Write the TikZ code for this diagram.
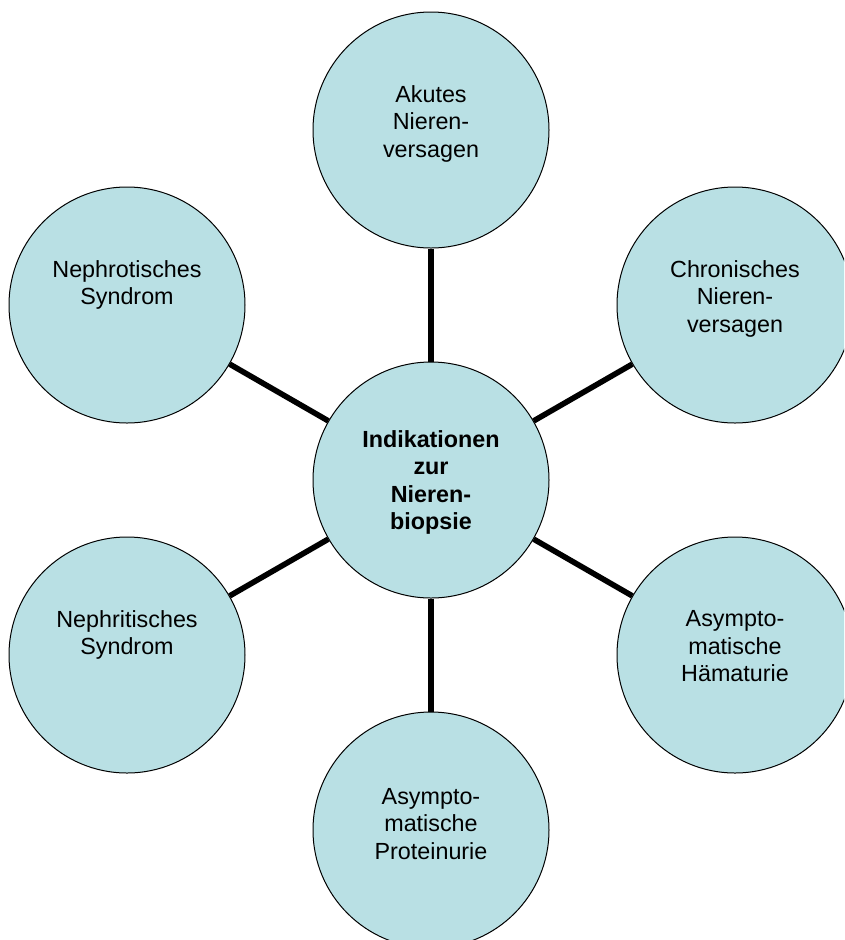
\documentclass[tikz,border=0pt]{standalone}
\usepackage{fontspec}
\setmainfont{Liberation Sans}
\usepackage{tikz}
\definecolor{hellblau}{RGB}{185,224,228}
\tikzset{kreis/.style={circle, draw=black, line width=.75pt, fill=hellblau,
  minimum size=177pt, inner sep=0pt}}
\tikzset{beschriftung/.style={anchor=north, align=center, inner sep=0pt,
  font=\fontsize{17.5}{20.6}\selectfont}}
\tikzset{kante/.style={line width=4.2pt, black}}

\begin{document}
\begin{tikzpicture}[x=.75pt, y=-.75pt]

\clip (0,0) rectangle (844,940);

\node[kreis] (mitte) at (431,480) {};
\node[kreis] (akut) at (431,130) {};
\node[kreis] (chron) at (735,305) {};
\node[kreis] (haem) at (735,655) {};
\node[kreis] (prot) at (431,830) {};
\node[kreis] (nephrit) at (127,655) {};
\node[kreis] (nephrot) at (127,305) {};

\node[beschriftung, font=\fontsize{17.5}{20.6}\selectfont\bfseries] (mitte-t)
  at ([yshift=37.5pt]mitte.center) {Indikationen\\zur\\Nieren-\\biopsie};
\node[beschriftung] (akut-t) at ([yshift=33.5pt]akut.center) {Akutes\\Nieren-\\versagen};
\node[beschriftung] (chron-t) at ([yshift=33.5pt]chron.center) {Chronisches\\Nieren-\\versagen};
\node[beschriftung] (haem-t) at ([yshift=33.5pt]haem.center) {Asympto-\\matische\\Hämaturie};
\node[beschriftung] (prot-t) at ([yshift=31.5pt]prot.center) {Asympto-\\matische\\Proteinurie};
\node[beschriftung] (nephrit-t) at ([yshift=33.5pt]nephrit.center) {Nephritisches\\Syndrom};
\node[beschriftung] (nephrot-t) at ([yshift=33.5pt]nephrot.center) {Nephrotisches\\Syndrom};

\draw[kante] (mitte) -- (akut);
\draw[kante] (mitte) -- (chron);
\draw[kante] (mitte) -- (haem);
\draw[kante] (mitte) -- (prot);
\draw[kante] (mitte) -- (nephrit);
\draw[kante] (mitte) -- (nephrot);

\end{tikzpicture}
\end{document}
